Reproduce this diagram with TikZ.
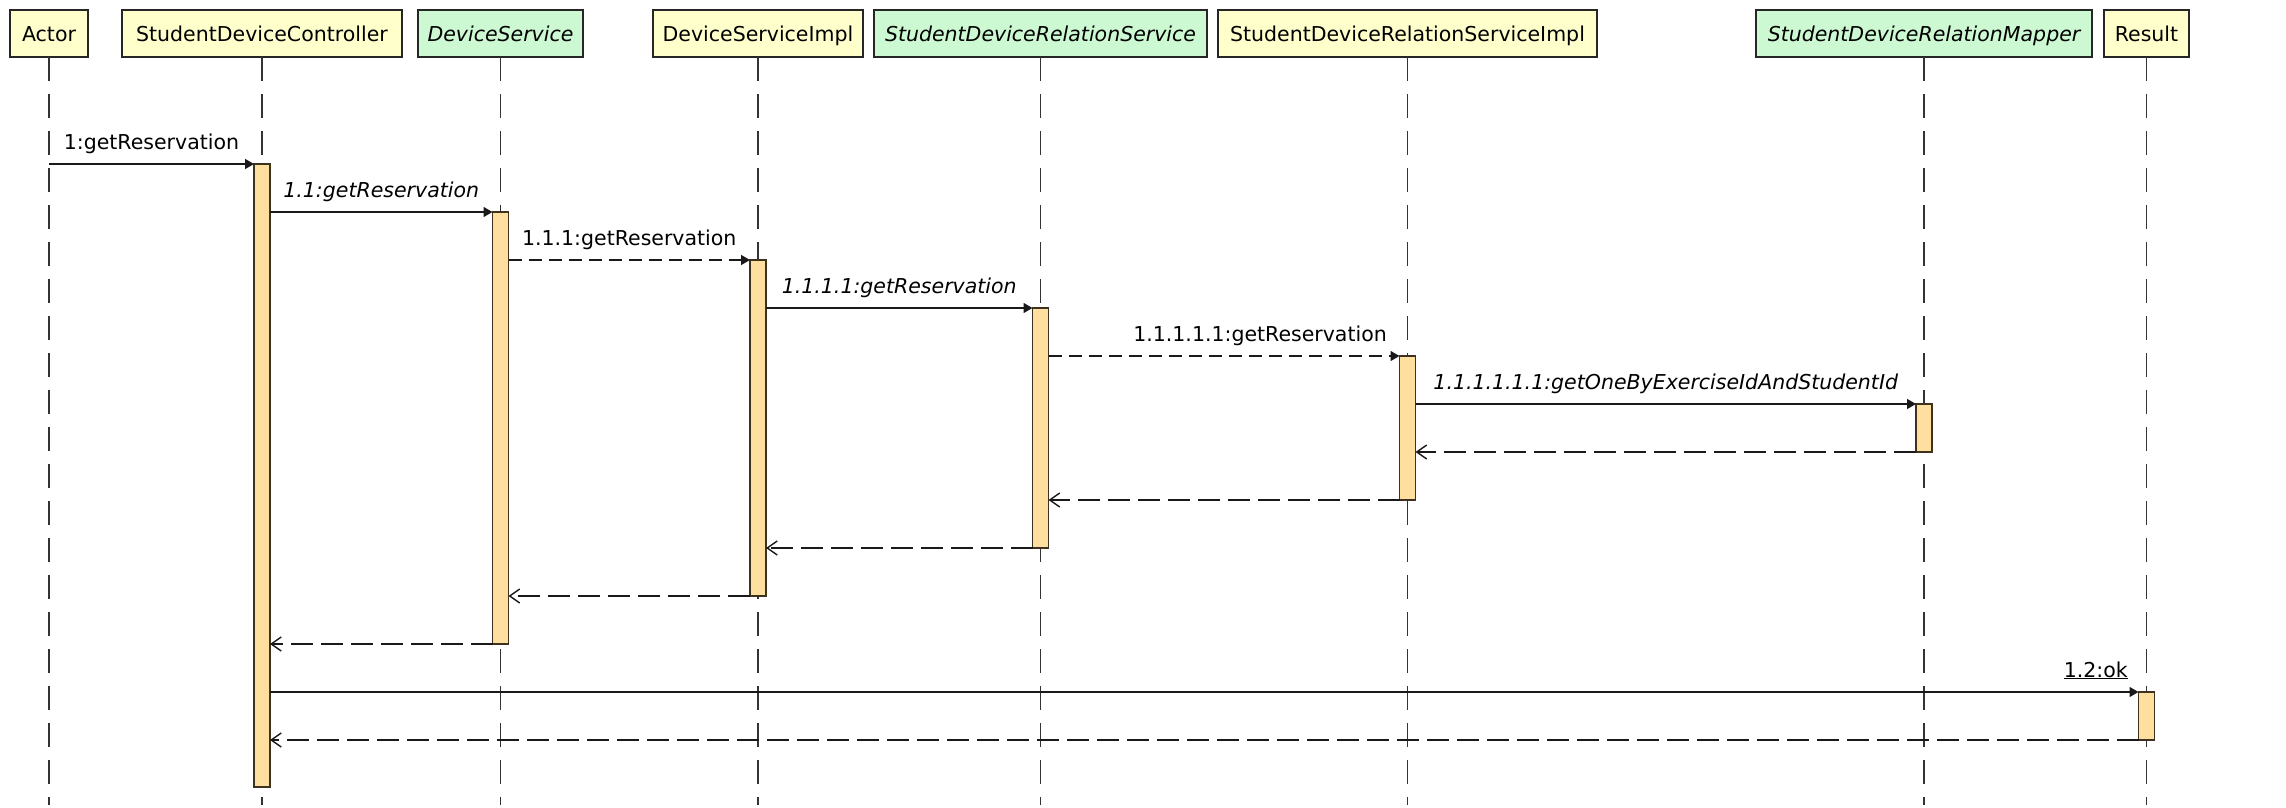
\documentclass[tikz,border=0pt]{standalone}
\usepackage{fontspec}
\setmainfont{DejaVu Sans}
\usetikzlibrary{arrows.meta,calc}
\definecolor{hyellow}{RGB}{255,255,204}
\definecolor{hgreen}{RGB}{204,249,210}
\definecolor{actfill}{RGB}{255,223,160}
\definecolor{actline}{RGB}{60,50,30}
\begin{document}
\begin{tikzpicture}[x=1pt,y=-1pt,
  font=\fontsize{20.5}{24}\selectfont,
  header/.style={draw=black!85, line width=1.6pt, inner sep=0pt, outer sep=0pt,
    anchor=north west, minimum height=47pt, text height=16pt, text depth=0pt},
  yel/.style={header, fill=hyellow},
  grn/.style={header, fill=hgreen, font=\fontsize{20.5}{24}\selectfont\itshape},
  lifeline/.style={line width=1.8pt, black!80, dash pattern=on 24pt off 13pt},
  act/.style={draw=actline, fill=actfill, line width=1.3pt, minimum width=16pt,
    inner sep=0pt, outer sep=0pt, anchor=north},
  call/.style={line width=1.4pt, black!90, -{Triangle[length=9pt,width=10pt]}},
  async/.style={call, dash pattern=on 13pt off 7pt},
  ret/.style={line width=1.4pt, black!90, dash pattern=on 22pt off 8pt,
    -{Straight Barb[length=10pt,width=14pt,line width=1.4pt]}},
  lbl/.style={anchor=base, yshift=15pt, inner sep=0pt, text=black},
  ilbl/.style={lbl, font=\fontsize{20.5}{24}\selectfont\itshape}
]
\fill[white] (0,0) rectangle (2286,808);
\useasboundingbox (0,0) rectangle (2286,808);

% headers
\node[yel, minimum width=78pt]  (h1) at (10,10)   {Actor};
\node[yel, minimum width=280pt] (h2) at (122,10)  {StudentDeviceController};
\node[grn, minimum width=165pt] (h3) at (418,10)  {DeviceService};
\node[yel, minimum width=210pt] (h4) at (653,10)  {DeviceServiceImpl};
\node[grn, minimum width=333pt] (h5) at (874,10)  {StudentDeviceRelationService};
\node[yel, minimum width=379pt] (h6) at (1218,10) {StudentDeviceRelationServiceImpl};
\node[grn, minimum width=336pt] (h7) at (1756,10) {StudentDeviceRelationMapper};
\node[yel, minimum width=85pt]  (h8) at (2104,10) {Result};

\coordinate (bottom) at (0,805);
\foreach \h in {h1,h2,h3,h4,h5,h6,h7,h8}
  \draw[lifeline] (\h.south) -- (\h.south |- bottom);

% activations
\node[act, minimum height=623pt] (a1) at (h2.south |- 0,164) {};
\node[act, minimum height=432pt] (a2) at (h3.south |- 0,212) {};
\node[act, minimum height=336pt] (a3) at (h4.south |- 0,260) {};
\node[act, minimum height=240pt] (a4) at (h5.south |- 0,308) {};
\node[act, minimum height=144pt] (a5) at (h6.south |- 0,356) {};
\node[act, minimum height=48pt]  (a6) at (h7.south |- 0,404) {};
\node[act, minimum height=48pt]  (a7) at (h8.south |- 0,692) {};

% calls
\draw[call] (h1.south |- a1.north west) -- (a1.north west)
  node[lbl, midway] (l1) {1:getReservation};
\draw[call] (a1.east |- a2.north west) -- (a2.north west)
  node[ilbl, midway] (l2) {1.1:getReservation};
\draw[async] (a2.east |- a3.north west) -- (a3.north west)
  node[lbl, midway] (l3) {1.1.1:getReservation};
\draw[call] (a3.east |- a4.north west) -- (a4.north west)
  node[ilbl, midway] (l4) {1.1.1.1:getReservation};
\draw[async] (a4.east |- a5.north west) -- (a5.north west)
  node[lbl, pos=1, anchor=base east, xshift=-12pt] (l5) {1.1.1.1.1:getReservation};
\draw[call] (a5.east |- a6.north west) -- (a6.north west)
  node[ilbl, midway] (l6) {1.1.1.1.1.1:getOneByExerciseIdAndStudentId};

% returns
\draw[ret] (a6.south west) -- (a5.east |- a6.south west);
\draw[ret] (a5.south west) -- (a4.east |- a5.south west);
\draw[ret] (a4.south west) -- (a3.east |- a4.south west);
\draw[ret] (a3.south west) -- (a2.east |- a3.south west);
\draw[ret] (a2.south west) -- (a1.east |- a2.south west);

% 1.2:ok
\draw[call] (a1.east |- a7.north west) -- (a7.north west)
  node[lbl, pos=1, anchor=base east, xshift=-10pt] (l7) {\underline{1.2:ok}};
\draw[ret] (a7.south west) -- (a1.east |- a7.south west);
\end{tikzpicture}
\end{document}
